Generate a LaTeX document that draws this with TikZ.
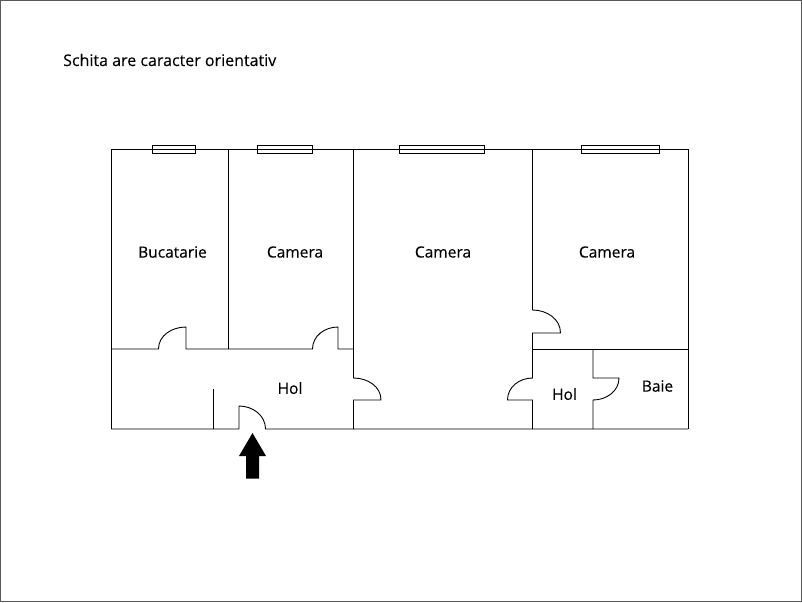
\documentclass[tikz,border=0pt]{standalone}
\usepackage{fontspec}
\setmainfont[FakeBold=0.15]{Open Sans}
\tikzset{wall/.style={line width=0.9pt, line join=miter},
         label/.style={font=\fontsize{15.5}{18}\selectfont, inner sep=0pt}}

\begin{document}
\begin{tikzpicture}[x=1pt, y=-1pt]
            \useasboundingbox (0,0) rectangle (802,602);
            \draw[line width=1pt, black!65] (0.5,0.5) rectangle (801.5,601.5);
            \node[label, font=\fontsize{16}{18}\selectfont, anchor=west] (note) at (63,60) {Schita are caracter orientativ};
            \draw[wall] (111,429) -- (111,149) -- (688,149) -- (688,429);
            \draw[wall] (228.5,149) -- (228.5,349);
            \draw[wall] (353.5,149) -- (353.5,378) to[out=0,in=90] (381,400) -- (353.5,400) -- (353.5,429);
            \draw[wall] (532.5,149) -- (532.5,310) to[out=0,in=90] (560.5,333) -- (532.5,333) -- (532.5,378)
                  to[out=180,in=90] (507.5,400) -- (532.5,400) -- (532.5,429);
            \draw[wall] (111,349) -- (158.5,349) to[out=90,in=180] (186,327) -- (186,349) -- (312.5,349)
                  to[out=90,in=180] (338,327) -- (338,349) -- (353.5,349);
            \draw[wall] (532.5,349) -- (688,349);
            \draw[wall] (593,349) -- (593,378) -- (619,378) to[out=-90,in=0] (593,400) -- (593,429);
            \draw[wall] (213.5,389) -- (213.5,429);
            \draw[wall] (111,429) -- (239,429) -- (239,406) to[out=0,in=90] (265.5,429) -- (688,429);
            \draw[wall] (152.7,145) rectangle (195.7,153);
            \draw[wall] (257.2,145) rectangle (312,153);
            \draw[wall] (399.7,145) rectangle (484.7,153);
            \draw[wall] (581.7,145) rectangle (659.7,153);
            \fill (252.5,433) -- (266,456) -- (259,456) -- (259,478.5) -- (246,478.5) -- (246,456) -- (239,456) -- cycle;
            \node[label] (kitchen) at (172.5,252) {Bucatarie};
            \node[label] (roomA) at (295,252) {Camera};
            \node[label] (roomB) at (443,252) {Camera};
            \node[label] (roomC) at (607,252) {Camera};
            \node[label] (hallA) at (290,388) {Hol};
            \node[label] (hallB) at (564.5,394) {Hol};
            \node[label] (bath) at (657.5,386) {Baie};
      \end{tikzpicture}
\end{document}
